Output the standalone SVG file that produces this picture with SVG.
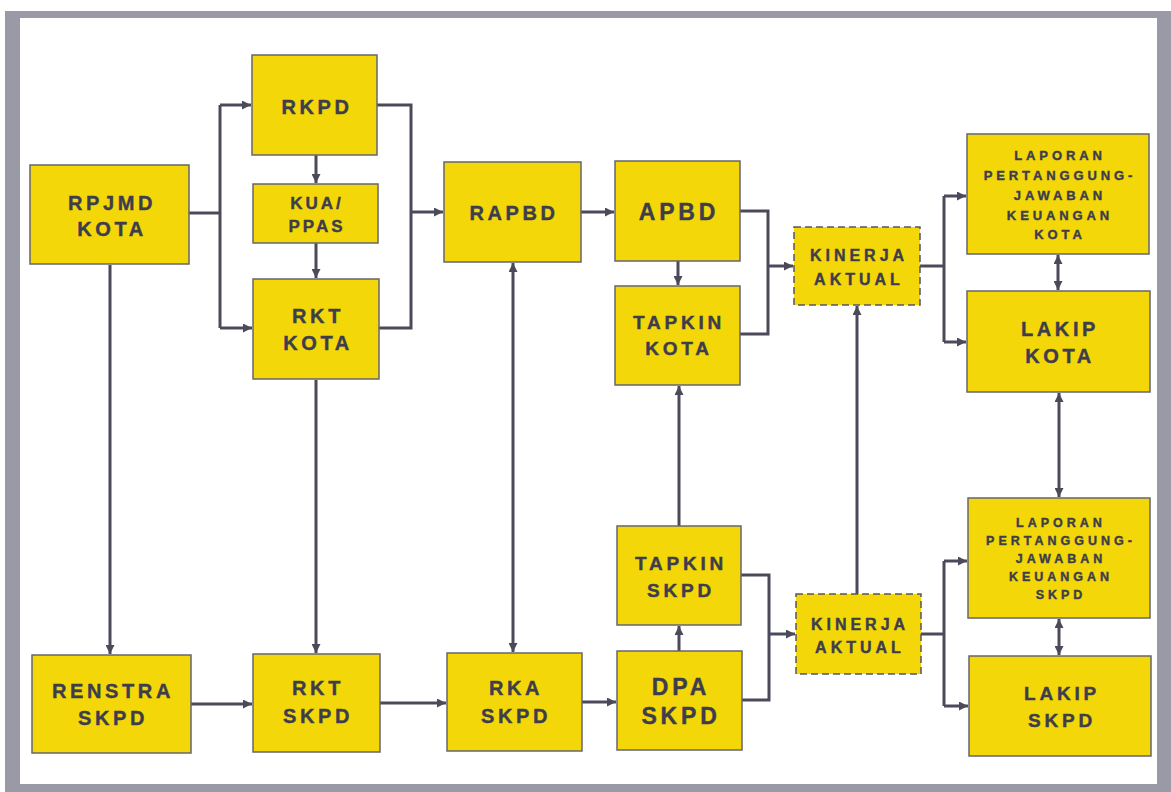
<svg xmlns="http://www.w3.org/2000/svg" width="1171" height="792" viewBox="0 0 1171 792">
<style>
.box{fill:#f4d708;stroke:#66666e;stroke-width:1.5}
.dash{fill:#f4d708;stroke:#55555e;stroke-width:1.5;stroke-dasharray:7 4}
text{font-family:"Liberation Sans",Arial,sans-serif;font-weight:bold;fill:#3d3d4d;stroke:#3d3d4d;stroke-width:0.4;text-anchor:middle}
.t20{font-size:20px;letter-spacing:3.6px}
.t23{font-size:23px;letter-spacing:3.8px}
.t19{font-size:19px;letter-spacing:3.8px}
.t17{font-size:17px;letter-spacing:3px}
.t16{font-size:16px;letter-spacing:4px}
.t13{font-size:13px;letter-spacing:3.9px}
.t12{font-size:12.5px;letter-spacing:4px}
.c path{fill:none;stroke:#4a4a5a;stroke-width:3}
</style>
<defs>
<marker id="a" viewBox="0 0 10 10" refX="10" refY="5" markerWidth="10" markerHeight="9" markerUnits="userSpaceOnUse" orient="auto-start-reverse">
<path d="M0,0 L10,5 L0,10 z" fill="#4a4a5a"/>
</marker>
</defs>
<rect x="0" y="0" width="1171" height="792" fill="#ffffff"/>
<rect x="5" y="11" width="1166" height="781" fill="#9a9aa6"/>
<rect x="20" y="18" width="1137" height="766" fill="#ffffff"/>

<g class="c" id="connectors">
<path d="M189,213 H220"/>
<path d="M220,105 V328"/>
<path d="M220,105 H251" marker-end="url(#a)"/>
<path d="M220,328 H252" marker-end="url(#a)"/>
<path d="M316,155 V183" marker-end="url(#a)"/>
<path d="M316,243 V278" marker-end="url(#a)"/>
<path d="M377,105 H411 V328 H379"/>
<path d="M411,212 H443" marker-end="url(#a)"/>
<path d="M581,212 H614" marker-end="url(#a)"/>
<path d="M678,261 V285" marker-end="url(#a)"/>
<path d="M740,211 H768 V334 H740"/>
<path d="M768,266 H793" marker-end="url(#a)"/>
<path d="M920,266 H944"/>
<path d="M944,196 V342"/>
<path d="M944,196 H966" marker-end="url(#a)"/>
<path d="M944,342 H966" marker-end="url(#a)"/>
<path d="M1058,255 V290" marker-start="url(#a)" marker-end="url(#a)"/>
<path d="M1059,393 V497" marker-start="url(#a)" marker-end="url(#a)"/>
<path d="M1059,619 V655" marker-start="url(#a)" marker-end="url(#a)"/>
<path d="M921,634 H944"/>
<path d="M944,561 V706"/>
<path d="M944,561 H967" marker-end="url(#a)"/>
<path d="M944,706 H968" marker-end="url(#a)"/>
<path d="M741,575 H769 V700 H742"/>
<path d="M769,634 H795" marker-end="url(#a)"/>
<path d="M679,651 V626" marker-end="url(#a)"/>
<path d="M679,526 V386" marker-end="url(#a)"/>
<path d="M857,594 V306" marker-end="url(#a)"/>
<path d="M513,263 V652" marker-start="url(#a)" marker-end="url(#a)"/>
<path d="M110,265 V654" marker-end="url(#a)"/>
<path d="M316,380 V653" marker-end="url(#a)"/>
<path d="M191,704 H252" marker-end="url(#a)"/>
<path d="M380,703 H446" marker-end="url(#a)"/>
<path d="M582,702 H616" marker-end="url(#a)"/>
</g>

<g id="rpjmd"><rect class="box" x="30" y="165" width="159" height="99"/><text class="t20" x="112" y="210">RPJMD</text><text class="t20" x="112" y="236">KOTA</text></g>
<g id="rkpd"><rect class="box" x="252" y="55" width="125" height="100"/><text class="t20" x="317" y="114">RKPD</text></g>
<g id="kua"><rect class="box" x="253" y="184" width="125" height="59"/><text class="t17" x="317" y="209">KUA/</text><text class="t17" x="317" y="232">PPAS</text></g>
<g id="rktkota"><rect class="box" x="253" y="279" width="126" height="100"/><text class="t20" x="318" y="323">RKT</text><text class="t20" x="318" y="350">KOTA</text></g>
<g id="rapbd"><rect class="box" x="444" y="162" width="137" height="100"/><text class="t20" x="514" y="220">RAPBD</text></g>
<g id="apbd"><rect class="box" x="615" y="161" width="125" height="100"/><text class="t23" x="679" y="220">APBD</text></g>
<g id="tapkinkota"><rect class="box" x="615" y="286" width="125" height="99"/><text class="t19" x="679" y="329">TAPKIN</text><text class="t19" x="679" y="355">KOTA</text></g>
<g id="kinerja1"><rect class="dash" x="794" y="227" width="126" height="78"/><text class="t16" x="859" y="261">KINERJA</text><text class="t16" x="859" y="285">AKTUAL</text></g>
<g id="lpkota"><rect class="box" x="967" y="134" width="182" height="120"/>
<text class="t13" x="1060" y="160">LAPORAN</text><text class="t13" x="1060" y="180">PERTANGGUNG-</text><text class="t13" x="1060" y="200">JAWABAN</text><text class="t13" x="1060" y="220">KEUANGAN</text><text class="t13" x="1060" y="239">KOTA</text></g>
<g id="lakipkota"><rect class="box" x="967" y="291" width="183" height="101"/><text class="t20" x="1060" y="336">LAKIP</text><text class="t20" x="1060" y="363">KOTA</text></g>
<g id="lpskpd"><rect class="box" x="968" y="498" width="182" height="120"/>
<text class="t12" x="1061" y="527">LAPORAN</text><text class="t12" x="1061" y="545">PERTANGGUNG-</text><text class="t12" x="1061" y="563">JAWABAN</text><text class="t12" x="1061" y="581">KEUANGAN</text><text class="t12" x="1061" y="599">SKPD</text></g>
<g id="lakipskpd"><rect class="box" x="969" y="656" width="182" height="100"/><text class="t19" x="1062" y="700">LAKIP</text><text class="t19" x="1062" y="727">SKPD</text></g>
<g id="kinerja2"><rect class="dash" x="796" y="594" width="125" height="80"/><text class="t16" x="860" y="630">KINERJA</text><text class="t16" x="860" y="653">AKTUAL</text></g>
<g id="tapkinskpd"><rect class="box" x="617" y="526" width="124" height="99"/><text class="t19" x="681" y="570">TAPKIN</text><text class="t19" x="681" y="597">SKPD</text></g>
<g id="dpa"><rect class="box" x="617" y="651" width="125" height="99"/><text class="t23" x="681" y="695">DPA</text><text class="t23" x="681" y="724">SKPD</text></g>
<g id="renstra"><rect class="box" x="32" y="655" width="159" height="98"/><text class="t20" x="113" y="698">RENSTRA</text><text class="t20" x="113" y="725">SKPD</text></g>
<g id="rktskpd"><rect class="box" x="253" y="654" width="127" height="98"/><text class="t20" x="318" y="695">RKT</text><text class="t20" x="318" y="723">SKPD</text></g>
<g id="rka"><rect class="box" x="447" y="653" width="135" height="98"/><text class="t20" x="516" y="695">RKA</text><text class="t20" x="516" y="723">SKPD</text></g>
</svg>
